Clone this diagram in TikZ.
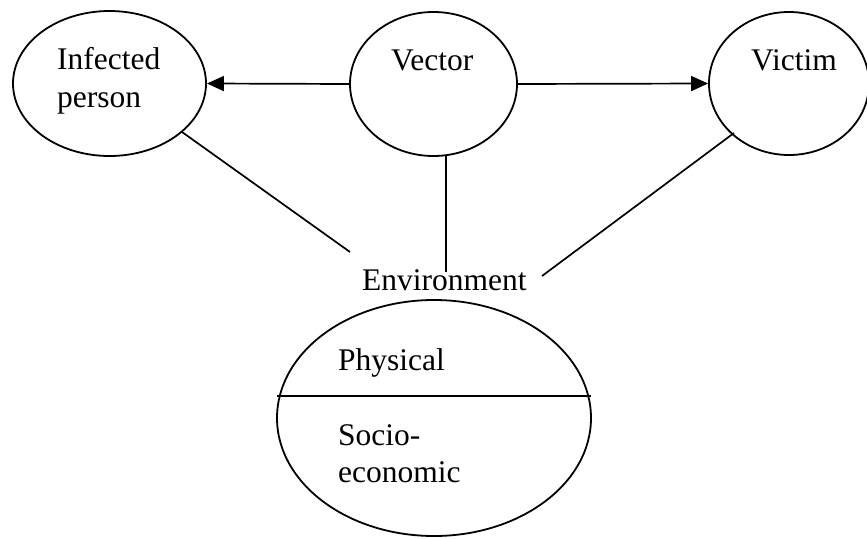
\documentclass[tikz,border=0pt]{standalone}
\usepackage{fontspec}
\setmainfont{Liberation Serif}
\usetikzlibrary{shapes.geometric,arrows.meta}
\begin{document}
\begin{tikzpicture}[x=1pt,y=-1pt,
  oval/.style={draw,ellipse,line width=1.8pt,inner sep=0pt},
  conn/.style={line width=1.7pt},
  arr/.style={conn,-{Triangle[length=17pt,width=15pt]}},
  lbl/.style={anchor=base west,inner sep=0pt,font=\fontsize{31.5}{38}\selectfont}]
\useasboundingbox (0,0) rectangle (867,538);
% ellipses
\node[oval,minimum width=193pt,minimum height=145pt] (inf) at (109.5,83.5) {};
\node[oval,minimum width=167pt,minimum height=144pt] (vec) at (433.5,84) {};
\node[oval,minimum width=160pt,minimum height=143pt] (vic) at (789,83.5) {};
\node[oval,minimum width=314pt,minimum height=236pt] (env) at (434,418) {};
% texts
\node[lbl] (tinf1) at (57,69) {Infected};
\node[lbl] (tinf2) at (57,107) {person};
\node[lbl] (tvec) at (391,70) {Vector};
\node[lbl] (tvic) at (751,70) {Victim};
\node[lbl] (tenv) at (362,290) {Environment};
\node[lbl] (tphy) at (338,370) {Physical};
\node[lbl] (tsoc1) at (338,445) {Socio-};
\node[lbl] (tsoc2) at (338,482) {economic};
% arrows
\draw[arr] (vec.west) -- (inf.east);
\draw[arr] (vec.east) -- (vic.west);
% lines
\coordinate (a1) at (182,132);
\coordinate (a2) at (350,252);
\coordinate (b1) at (446,155.5);
\coordinate (b2) at (446,272);
\coordinate (c1) at (734,133);
\coordinate (c2) at (542,276);
\coordinate (h1) at (277,396);
\coordinate (h2) at (591,396);
\draw[conn] (a1) -- (a2);
\draw[conn] (b1) -- (b2);
\draw[conn] (c1) -- (c2);
\draw[conn] (h1) -- (h2);
\end{tikzpicture}
\end{document}
